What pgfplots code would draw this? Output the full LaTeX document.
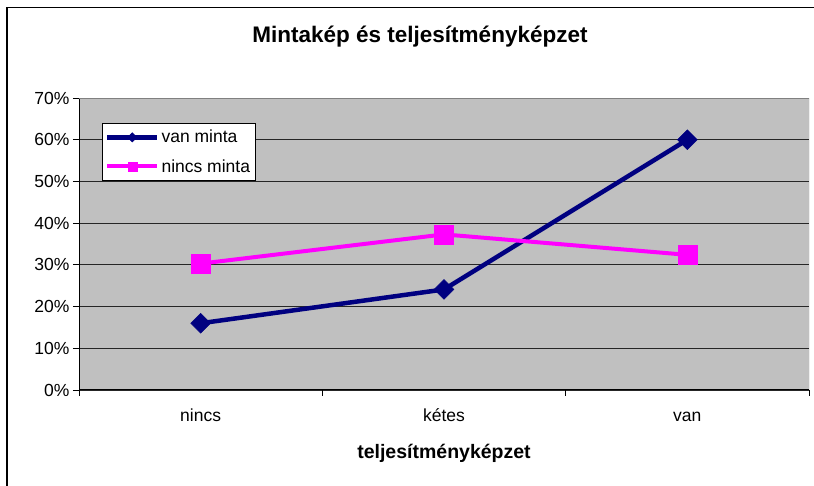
\documentclass[border=0pt]{standalone}
\usepackage{pgfplots}
\pgfplotsset{compat=1.18}
\usepackage{fontspec}
\setmainfont{Liberation Sans}
\definecolor{plotbg}{RGB}{192,192,192}
\definecolor{navyc}{RGB}{0,0,128}
\definecolor{magc}{RGB}{255,0,255}
\begin{document}
\begin{tikzpicture}[x=1pt,y=1pt]
\path[use as bounding box] (0,0) rectangle (814,486);
\draw[line width=1.3pt] (7,0) -- (7,478.5) -- (814,478.5);
\node[anchor=base, font=\bfseries\fontsize{22.5}{26}\selectfont] at (420,443.7) {Mintakép és teljesítményképzet};
\node[anchor=base, font=\bfseries\fontsize{19.5}{22}\selectfont] at (444,27.7) {teljesítményképzet};
\begin{axis}[
  at={(79pt,96pt)}, anchor=south west,
  scale only axis, width=730pt, height=292pt,
  xmin=0, xmax=3, ymin=0, ymax=70,
  axis background/.style={fill=plotbg},
  axis x line*=bottom, axis y line*=left,
  axis line style={black, line width=1pt},
  xtick={0.5,1.5,2.5}, xticklabels={nincs,kétes,van},
  major x tick style={draw=none},
  minor xtick={0,1,2,3},
  minor tick length=6pt,
  major tick length=6pt,
  tick align=outside,
  tick style={black, line width=0.8pt},
  ytick={0,10,...,70},
  yticklabels={0\%,10\%,20\%,30\%,40\%,50\%,60\%,70\%},
  ymajorgrids,
  major grid style={black!85, line width=0.8pt},
  ticklabel style={font=\fontsize{17.5}{20}\selectfont},
  xticklabel style={text height=13pt, text depth=4pt, yshift=-9pt},
  legend style={at={(0.031,0.915)}, anchor=north west, draw=black, fill=white,
    line width=0.8pt,
    font=\fontsize{17.5}{20}\selectfont, inner xsep=3pt, inner ysep=5pt,
    row sep=11pt},
  legend cell align=left,
  legend image code/.code={\draw[mark repeat=2,mark phase=2,#1] plot coordinates {(0pt,0pt) (25pt,0pt) (50pt,0pt)};},
]
\addplot[navyc, line width=4.5pt, mark=square*, mark size=7pt, mark options={solid, rotate=45, line width=0.5pt},
  legend image post style={mark size=3.3pt}]
  coordinates {(0.5,16.0) (1.5,24.1) (2.5,60.0)};
\addlegendentry{van minta}
\addplot[magc, line width=4pt, mark=square*, mark size=9.5pt, mark options={solid, line width=0.5pt},
  legend image post style={mark size=4.5pt}]
  coordinates {(0.5,30.3) (1.5,37.3) (2.5,32.4)};
\addlegendentry{nincs minta}
\draw[black!50, line width=1pt] (rel axis cs:1,0) -- (rel axis cs:1,1);
\draw[black!50, line width=1pt] (rel axis cs:0,1) -- (rel axis cs:1,1);
\end{axis}
\end{tikzpicture}
\end{document}
